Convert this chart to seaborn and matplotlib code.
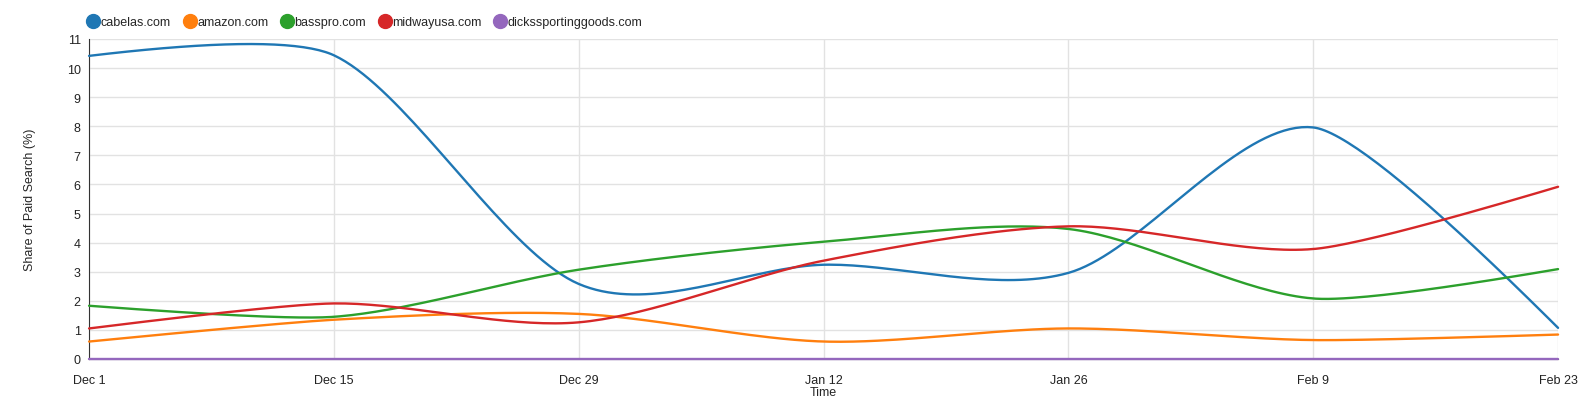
import numpy as np
import pandas as pd
import matplotlib
matplotlib.use("Agg")
import matplotlib.pyplot as plt
import seaborn as sns

# data (share of paid search, %)
dates = ["Dec 1", "Dec 15", "Dec 29", "Jan 12", "Jan 26", "Feb 9", "Feb 23"]
cabelas = [10.42, 10.44, 2.58, 3.24, 2.96, 7.96, 1.07]
amazon = [0.60, 1.35, 1.55, 0.60, 1.05, 0.65, 0.84]
basspro = [1.83, 1.45, 3.07, 4.03, 4.47, 2.08, 3.09]
midwayusa = [1.05, 1.91, 1.26, 3.38, 4.56, 3.78, 5.92]
dicks = [0, 0, 0, 0, 0, 0, 0]

sites = ["cabelas.com", "amazon.com", "basspro.com", "midwayusa.com", "dickssportinggoods.com"]
colors = ["#1f77b4", "#ff7f0e", "#2ca02c", "#d62728", "#9467bd"]
series = [cabelas, amazon, basspro, midwayusa, dicks]


def bez(pts, n=40):
    # bezier curve through control points (quadratic or cubic)
    s = np.linspace(0, 1, n)[:, None]
    if len(pts) == 3:
        p0, c, p1 = pts
        return (1 - s) ** 2 * p0 + 2 * s * (1 - s) * c + s ** 2 * p1
    p0, c1, c2, p1 = pts
    return ((1 - s) ** 3 * p0 + 3 * (1 - s) ** 2 * s * c1
            + 3 * (1 - s) * s ** 2 * c2 + s ** 3 * p1)


def cardinal(xs, ys, tension=0.7):
    # same smoothing as a d3 cardinal line
    p = np.column_stack([xs, ys]).astype(float)
    a = (1 - tension) / 2
    t = {i: a * (p[i + 1] - p[i - 1]) for i in range(1, len(p) - 1)}
    parts = [bez([p[0], p[1] - t[1] * 2 / 3, p[1]])]
    for i in range(1, len(p) - 2):
        parts.append(bez([p[i], p[i] + t[i], p[i + 1] - t[i + 1], p[i + 1]])[1:])
    k = len(p) - 2
    parts.append(bez([p[k], p[k] + t[k] * 2 / 3, p[k + 1]])[1:])
    return np.vstack(parts)


xpos = np.arange(len(dates))
rows = []
for name, vals in zip(sites, series):
    curve = cardinal(xpos, vals)
    rows.append(pd.DataFrame({"x": curve[:, 0], "y": curve[:, 1], "site": name}))
df = pd.concat(rows, ignore_index=True)

sns.set_style("white")
plt.rcParams["font.family"] = ["Liberation Sans", "DejaVu Sans"]

fig = plt.figure(figsize=(15.85, 4.02), dpi=100)
ax = fig.add_axes([0.0562, 0.1045, 0.9268, 0.796])

sns.lineplot(data=df, x="x", y="y", hue="site", hue_order=sites,
             palette=colors, sort=False, estimator=None, linewidth=1.7,
             legend=False, ax=ax)
for ln in ax.lines:
    ln.set_zorder(4)
    ln.set_clip_on(False)

ax.set_xlim(0, len(dates) - 1)
ax.set_ylim(0, 11)
ax.set_xticks(xpos)
ax.set_xticklabels(dates)
ax.set_yticks(range(0, 12))
ax.grid(True, color="#e2e2e2", linewidth=1)
ax.tick_params(axis="y", labelsize=9, colors="#222222", length=0, pad=6)
ax.tick_params(axis="x", labelsize=9, colors="#222222", length=0, pad=11)
for side in ["top", "right"]:
    ax.spines[side].set_visible(False)
ax.spines["left"].set_color("#333333")
ax.spines["bottom"].set_color("#333333")

ax.set_xlabel("Time", fontsize=9, labelpad=0)
ax.set_ylabel("Share of Paid Search (%)", fontsize=9, labelpad=22)

handles = [plt.Line2D([], [], marker="o", linestyle="", markersize=10,
                      color=c) for c in colors]
fig.legend(handles, sites, loc="center left", bbox_to_anchor=(0.047, 0.942),
           ncol=5, frameon=False, fontsize=9, handletextpad=0.0,
           columnspacing=0.9, handlelength=1.2)

fig.savefig("out.png", dpi=100)
